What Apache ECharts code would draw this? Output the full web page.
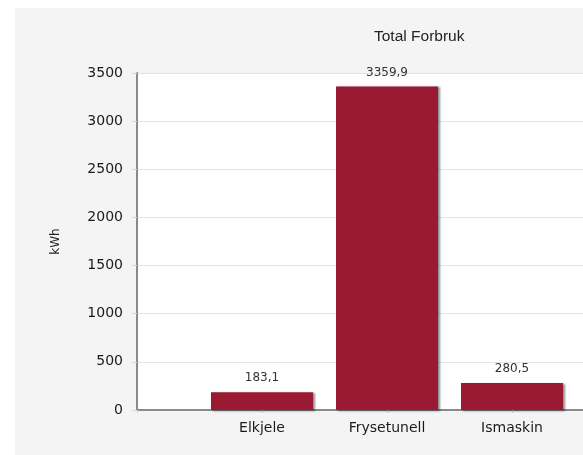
<!DOCTYPE html>
<html>
<head>
<meta charset="utf-8">
<script src="https://cdn.jsdelivr.net/npm/echarts@6/dist/echarts.min.js"></script>
<style>
html,body{margin:0;padding:0;background:#fff;}
#c{width:583px;height:455px;}
</style>
</head>
<body>
<div id="c"></div>
<script>
const titleText = 'Total Forbruk';
const yAxisName = 'kWh';
const categories = ['', 'Elkjele', 'Frysetunell', 'Ismaskin', ''];
const values = [null, 183.1, 3359.9, 280.5, null];
const yMin = 0, yMax = 3500, yStep = 500;

const chart = echarts.init(document.getElementById('c'), null, {renderer: 'canvas'});
chart.setOption({
  animation: false,
  backgroundColor: '#ffffff',
  graphic: [{
    type: 'rect', z: -10, silent: true,
    shape: {x: 15, y: 8, width: 568, height: 447},
    style: {fill: '#f4f4f4'}
  }],
  title: {
    text: titleText,
    left: 369, top: 24,
    textStyle: {fontFamily: 'Liberation Sans', fontSize: 15.5, fontWeight: 'normal', color: '#222'}
  },
  grid: {
    left: 137, top: 73, width: 500, height: 337,
    outerBoundsMode: 'none',
    containLabel: false,
    show: true, backgroundColor: '#ffffff', borderWidth: 0
  },
  xAxis: {
    type: 'category',
    data: categories,
    boundaryGap: false,
    axisLine: {lineStyle: {color: '#8a8a8a', width: 2}},
    axisTick: {show: true, length: 3, lineStyle: {color: '#cfcfcf'}},
    axisLabel: {fontFamily: 'DejaVu Sans', fontSize: 14, color: '#1a1a1a', margin: 11},
    splitLine: {show: false}
  },
  yAxis: {
    type: 'value',
    min: yMin, max: yMax, interval: yStep,
    name: yAxisName,
    nameLocation: 'middle',
    nameGap: 75,
    nameTextStyle: {fontFamily: 'DejaVu Sans', fontSize: 12, color: '#222'},
    axisLine: {show: true, lineStyle: {color: '#8a8a8a', width: 2}},
    axisTick: {show: true, length: 5, lineStyle: {color: '#d8d8d8'}},
    axisLabel: {fontFamily: 'DejaVu Sans', fontSize: 14, color: '#1a1a1a', margin: 14,
      formatter: v => String(v)},
    splitLine: {lineStyle: {color: '#e4e4e4', width: 1}}
  },
  series: [{
    type: 'bar',
    data: values,
    barWidth: 102,
    itemStyle: {
      color: '#9b1a33',
      shadowColor: 'rgba(0,0,0,0.45)',
      shadowOffsetX: 2, shadowOffsetY: 1, shadowBlur: 2
    },
    label: {
      show: true, position: 'top', distance: 8,
      fontFamily: 'DejaVu Sans', fontSize: 12, color: '#333',
      formatter: p => p.value == null ? '' : String(p.value).replace('.', ',')
    }
  }]
});
</script>
</body>
</html>
